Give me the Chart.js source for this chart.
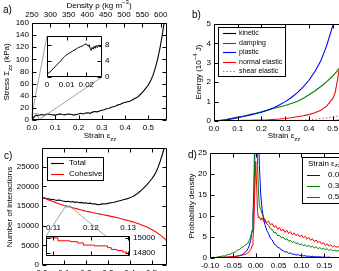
<!DOCTYPE html>
<html>
<head>
<meta charset="utf-8">
<script src="https://cdn.jsdelivr.net/npm/chart.js@4/dist/chart.umd.min.js"></script>
<style>
html, body { margin: 0; padding: 0; overflow: hidden; background: #fff; }
body { position: relative; width: 339px; height: 271px; font-family: "Liberation Sans", Arial, sans-serif; }
canvas { position: absolute; }
.lab { position: absolute; font-size: 8px; line-height: 1; white-space: nowrap; color: #000; transform: translate(-50%, -50%); }
.rot { transform: translate(-50%, -50%) rotate(-90deg); }
.tag { position: absolute; font-size: 10px; line-height: 1; }
sub, sup { font-size: 6px; line-height: 0; }
</style>
</head>
<body>
<canvas id="chartA" width="175" height="135" style="left:0px;top:0px"></canvas>
<canvas id="chartB" width="180" height="135" style="left:185px;top:0px"></canvas>
<canvas id="chartC" width="175" height="150" style="left:0px;top:138px"></canvas>
<canvas id="chartD" width="180" height="150" style="left:178px;top:138px"></canvas>
<canvas id="insetA" width="82" height="64" style="left:38px;top:28px"></canvas>
<canvas id="insetC" width="122" height="42" style="left:40px;top:222px"></canvas>

<div class="tag" style="left:3px;top:5px">a)</div>
<div class="tag" style="left:192px;top:10px">b)</div>
<div class="tag" style="left:4px;top:151px">c)</div>
<div class="tag" style="left:188px;top:150px">d)</div>

<div class="lab" style="left:99px;top:6px">Density ρ (kg m<sup>−3</sup>)</div>
<div class="lab rot" style="left:7px;top:72px">Stress Σ<sub>zz</sub> (kPa)</div>
<div class="lab" style="left:100px;top:136px">Strain ε<sub>zz</sub></div>
<div class="lab rot" style="left:199px;top:72px">Energy (10<sup>−4</sup> J)</div>
<div class="lab" style="left:284px;top:136px">Strain ε<sub>zz</sub></div>
<div class="lab rot" style="left:10px;top:207px">Number of interactions</div>
<div class="lab" style="left:104px;top:283px">Strain ε<sub>zz</sub></div>
<div class="lab rot" style="left:192px;top:206px">Probability density</div>

<script>
// ---- panel a: stress vs strain ----
const strainA = [0, 0.005, 0.01, 0.015, 0.02, 0.025, 0.03, 0.04, 0.05, 0.06, 0.07, 0.08, 0.09, 0.10,
  0.11, 0.12, 0.13, 0.14, 0.15, 0.16, 0.17, 0.18, 0.19, 0.20, 0.21, 0.22, 0.23, 0.24, 0.25, 0.26,
  0.27, 0.28, 0.29, 0.30, 0.31, 0.32, 0.33, 0.34, 0.35, 0.36, 0.37, 0.38, 0.39, 0.40, 0.41, 0.42,
  0.43, 0.44, 0.45, 0.46, 0.47, 0.48, 0.49, 0.50, 0.51, 0.52, 0.53, 0.54, 0.55, 0.56, 0.57, 0.58];
const stressA = [0, 3, 5.5, 7, 8, 7, 8, 9, 8, 9.5, 10, 9, 8.5, 8,
  9, 10, 9, 8.5, 9.5, 10, 9, 8, 9, 10, 11, 10, 11.5, 12, 11, 13,
  14, 13.5, 15, 16, 17, 18.5, 19, 21, 22, 23, 25, 26, 28, 29, 30, 31,
  33, 35, 37, 40, 44, 48, 53, 58, 65, 74, 86, 101, 119, 141, 166, 190];
const strainAZoom = [0, 0.001, 0.002, 0.003, 0.004, 0.005, 0.006, 0.007, 0.008, 0.009, 0.010,
  0.011, 0.012, 0.013, 0.014, 0.015, 0.016, 0.017, 0.018, 0.019, 0.020, 0.0205, 0.021, 0.0215,
  0.022, 0.0225, 0.023, 0.0235, 0.024, 0.0245, 0.025, 0.0255, 0.026, 0.0265, 0.027, 0.0275, 0.028];
const stressAZoom = [0.8, 1.0, 1.5, 2.0, 2.5, 3.0, 3.5, 4.0, 4.6, 5.1, 5.5,
  5.8, 6.1, 6.4, 6.7, 7.0, 7.3, 7.5, 7.7, 8.0, 8.2, 7.9, 7.6, 8.0,
  7.1, 6.6, 7.3, 6.9, 7.6, 7.1, 7.8, 7.3, 7.5, 7.9, 7.4, 7.8, 7.6];
const ticksStrain = [0, 0.1, 0.2, 0.3, 0.4, 0.5, 0.6];
const ticksDensity = [250, 300, 350, 400, 450, 500, 550, 600];
const ticksStress = [0, 20, 40, 60, 80, 100, 120, 140, 160];
const ticksStrainZoomA = [0, 0.01, 0.02];
const ticksStressZoom = [0, 4, 8];

// ---- panel b: energies (1e-4 J) ----
const strainB = [0, 0.025, 0.05, 0.075, 0.1, 0.125, 0.15, 0.175, 0.2, 0.225, 0.25, 0.275, 0.3,
  0.325, 0.35, 0.375, 0.4, 0.425, 0.45, 0.475, 0.5, 0.51, 0.52, 0.53, 0.55, 0.575, 0.6];
const energyKinetic = [0, 0.01, 0.02, 0.02, 0.02, 0.02, 0.02, 0.02, 0.02, 0.02, 0.02, 0.02, 0.02,
  0.02, 0.02, 0.02, 0.02, 0.02, 0.02, 0.02, 0.02, 0.02, 0.03, 0.03, 0.03, 0.03, 0.03];
const energyDamping = [0, 0.03, 0.08, 0.14, 0.2, 0.26, 0.33, 0.4, 0.48, 0.56, 0.64, 0.72, 0.8,
  0.9, 1.01, 1.16, 1.35, 1.55, 1.78, 2.03, 2.32, 2.45, 2.6, 2.75, 3.05, 3.5, 4.0];
const energyPlastic = [0, 0.02, 0.06, 0.11, 0.17, 0.23, 0.3, 0.37, 0.45, 0.55, 0.67, 0.82, 1.0,
  1.2, 1.45, 1.75, 2.1, 2.55, 3.1, 3.9, 4.9, 5.4, 6.0, 6.6, 8, 10, 12];
const energyNormal = [0, 0.005, 0.01, 0.015, 0.02, 0.03, 0.04, 0.045, 0.05, 0.06, 0.08, 0.1, 0.13,
  0.17, 0.22, 0.27, 0.33, 0.42, 0.55, 0.78, 1.15, 1.45, 2.1, 2.9, 4.5, 6, 8];
const energyShear = [0, 0, 0, 0, 0, 0.005, 0.005, 0.01, 0.01, 0.015, 0.015, 0.02, 0.025,
  0.03, 0.04, 0.05, 0.07, 0.09, 0.12, 0.16, 0.2, 0.22, 0.25, 0.28, 0.34, 0.42, 0.5];
const ticksEnergy = [0, 1, 2, 3, 4, 5];

// ---- panel c: number of interactions ----
const strainC = [0, 0.01, 0.02, 0.03, 0.04, 0.05, 0.06, 0.07, 0.08, 0.09, 0.10, 0.11, 0.12, 0.13,
  0.14, 0.15, 0.16, 0.17, 0.18, 0.19, 0.20, 0.21, 0.22, 0.23, 0.24, 0.25, 0.26, 0.27, 0.28, 0.29,
  0.30, 0.31, 0.32, 0.33, 0.34, 0.35, 0.36, 0.37, 0.38, 0.39, 0.40, 0.41, 0.42, 0.43, 0.44, 0.45,
  0.46, 0.47, 0.48, 0.49, 0.50, 0.51, 0.52, 0.53, 0.54, 0.55, 0.56, 0.57];
const totalC = [17200, 17100, 16950, 16850, 16700, 16750, 16550, 16450, 16550, 16350, 16250, 16150,
  16250, 16050, 16150, 15950, 16050, 15850, 15950, 15750, 15850, 15650, 15750, 15550, 15600, 15450,
  15350, 15500, 15600, 15550, 15700, 15800, 15900, 16000, 16150, 16300, 16450, 16600, 16750, 16900,
  17100, 17350, 17650, 18000, 18400, 18900, 19400, 19950, 20550, 21200, 21900, 22700, 23700, 25000,
  26600, 28400, 30400, 32500];
const cohesiveC = [17200, 17000, 16800, 16550, 16350, 16150, 15950, 15750, 15550, 15350, 15150, 15000,
  14900, 14780, 14600, 14450, 14300, 14150, 14000, 13850, 13700, 13600, 13480, 13350, 13250, 13130,
  13030, 12920, 12800, 12700, 12580, 12450, 12330, 12200, 12080, 11950, 11800, 11650, 11500, 11350,
  11200, 11050, 10880, 10700, 10500, 10300, 10080, 9850, 9600, 9330, 9050, 8750, 8400, 8000,
  7600, 7150, 6650, 6100];
const strainCZoom = [0.108, 0.1112, 0.1145, 0.1165, 0.118, 0.121, 0.1245, 0.1255, 0.127, 0.1285, 0.1295, 0.1305];
const cohesiveCZoom = [15005, 14965, 14953, 14935, 14906, 14895, 14871, 14847, 14832, 14812, 14795, 14778];
const ticksInteractions = [0, 5000, 10000, 15000, 20000, 25000];
const ticksStrainZoomC = [0.11, 0.12, 0.13];
const ticksInteractionsZoom = [14800, 15000];

// ---- panel d: probability density ----
const binsD = [-0.100, -0.096, -0.092, -0.088, -0.084, -0.080, -0.076, -0.072, -0.068, -0.064, -0.060,
  -0.056, -0.052, -0.048, -0.044, -0.040, -0.036, -0.032, -0.028, -0.024, -0.020,
  -0.017, -0.014, -0.011, -0.008, -0.006, -0.004, -0.002, 0.000, 0.002, 0.004, 0.006, 0.008, 0.011, 0.014, 0.017,
  0.020, 0.024, 0.028, 0.032, 0.036, 0.040, 0.044, 0.048, 0.052, 0.056, 0.060, 0.064, 0.068, 0.072,
  0.076, 0.080, 0.084, 0.088, 0.092, 0.096, 0.100, 0.104, 0.108, 0.112, 0.116, 0.120, 0.124, 0.128,
  0.132, 0.136, 0.140, 0.144, 0.148, 0.152, 0.156, 0.160, 0.164, 0.168, 0.172, 0.176, 0.180, 0.184,
  0.188, 0.192, 0.196, 0.200];
const density00 = [0, 0.05, 0, 0.1, 0.05, 0.1, 0.15, 0.1, 0.2, 0.15, 0.25, 0.2, 0.3, 0.35, 0.3, 0.5, 0.55, 0.7, 0.9, 1.2, 1.7,
  2.2, 3.0, 4.2, 6.5, 10, 17, 30, 42, 45, 40, 30, 22, 15, 11.5, 9.5,
  8.0, 6.6, 5.8, 4.7, 4.3, 3.4, 3.1, 2.5, 2.4, 1.9, 1.8, 1.4, 1.5, 1.1, 1.2, 0.9, 0.95, 0.7, 0.8, 0.6,
  0.65, 0.5, 0.55, 0.4, 0.45, 0.35, 0.4, 0.3, 0.3, 0.25, 0.3, 0.2, 0.25, 0.2, 0.15, 0.2, 0.15, 0.1,
  0.15, 0.1, 0.1, 0.05, 0.1, 0.05, 0.1, 0.05];
const density03 = [0.05, 0.1, 0.15, 0.1, 0.25, 0.3, 0.35, 0.5, 0.45, 0.7, 0.8, 0.9, 1.2, 1.3, 1.5, 1.9, 2.0, 2.4, 2.6, 3.0, 3.3,
  3.5, 4.2, 5.0, 6.5, 9, 14, 24, 38, 34, 22, 16, 12.5, 11.5, 10.5, 9.8,
  9.0, 8.1, 7.8, 7.0, 6.8, 6.0, 6.1, 5.3, 5.4, 4.8, 5.0, 4.4, 4.6, 4.0, 4.2, 3.7, 3.9, 3.4, 3.6, 3.1,
  3.4, 2.9, 3.2, 2.7, 3.0, 2.6, 2.8, 2.4, 2.7, 2.2, 2.5, 2.1, 2.3, 2.0, 2.2, 1.8, 2.1, 1.7,
  1.9, 1.6, 1.8, 1.5, 1.7, 1.4, 1.6, 1.4];
const density05 = [0, 0.05, 0.1, 0.05, 0.1, 0.15, 0.1, 0.2, 0.15, 0.25, 0.2, 0.3, 0.35, 0.3, 0.45, 0.4, 0.55, 0.6, 0.75, 0.8, 1.0,
  1.2, 1.5, 2.0, 3.0, 4.5, 8, 16, 23, 17, 11, 9.5, 9.8, 9.0, 9.6, 8.7,
  9.2, 8.4, 8.8, 7.9, 8.2, 7.3, 7.7, 6.8, 7.3, 6.4, 6.9, 6.1, 6.6, 5.8, 6.3, 5.5, 6.0, 5.3, 5.7, 5.0,
  5.5, 4.8, 5.2, 4.5, 4.9, 4.2, 4.6, 3.9, 4.3, 3.6, 4.0, 3.3, 3.7, 3.0, 3.4, 2.8, 3.2, 2.6,
  3.0, 2.5, 2.8, 2.3, 2.7, 2.2, 2.5, 2.1];
const ticksBins = [-0.1, -0.05, 0, 0.05, 0.1, 0.15, 0.2];
const ticksProb = [0, 5, 10, 15, 20, 25];

const FONT = '"Liberation Sans", Arial, sans-serif';
Chart.defaults.font.family = FONT;
Chart.defaults.font.size = 8;
Chart.defaults.color = '#000';

const pts = (xs, ys) => xs.map((x, i) => ({x: x, y: ys[i]}));

function axis(position, min, max, tickValues, size, digits) {
  const horizontal = position === 'top' || position === 'bottom';
  const shown = tickValues.filter(v => v >= min - 1e-9 && v <= max + 1e-9);
  return {
    type: 'linear', position: position, min: min, max: max,
    grid: {display: false, drawTicks: false},
    border: {display: false},
    ticks: {
      padding: 3, maxRotation: 0, autoSkip: false,
      callback: v => digits == null ? String(v) : v.toFixed(digits)
    },
    afterBuildTicks(scale) { scale.ticks = shown.map(v => ({value: v})); },
    afterFit(scale) { if (horizontal) scale.height = size; else scale.width = size; }
  };
}

// box round the plot with inward ticks, like the matplotlib frame
function frame(mirrorX, mirrorY, fill) {
  return {
    id: 'frame',
    beforeDraw(chart) {
      if (!fill) return;
      const a = chart.chartArea;
      chart.ctx.save();
      chart.ctx.fillStyle = '#fff';
      chart.ctx.fillRect(a.left, a.top, a.right - a.left, a.bottom - a.top);
      chart.ctx.restore();
    },
    afterDatasetsDraw(chart) {
      const ctx = chart.ctx, a = chart.chartArea;
      const L = Math.round(a.left) + 0.5, R = Math.round(a.right) - 0.5;
      const T = Math.round(a.top) + 0.5, B = Math.round(a.bottom) - 0.5;
      ctx.save();
      ctx.strokeStyle = '#000';
      ctx.lineWidth = 1;
      ctx.beginPath();
      ctx.rect(L, T, R - L, B - T);
      Object.values(chart.scales).forEach(s => {
        s.ticks.forEach(t => {
          const p = Math.round(s.getPixelForValue(t.value)) + 0.5;
          if (s.isHorizontal()) {
            const sides = mirrorX ? [T, B] : [s.position === 'top' ? T : B];
            sides.forEach(y => { ctx.moveTo(p, y); ctx.lineTo(p, y === T ? y + 4 : y - 4); });
          } else {
            const sides = mirrorY ? [L, R] : [s.position === 'right' ? R : L];
            sides.forEach(x => { ctx.moveTo(x, p); ctx.lineTo(x === L ? x + 4 : x - 4, p); });
          }
        });
      });
      ctx.stroke();
      ctx.restore();
    }
  };
}

function boxLegend(box) {
  return {
    id: 'boxLegend',
    afterDraw(chart) {
      const ctx = chart.ctx;
      const x = box.x - chart.canvas.offsetLeft, y = box.y - chart.canvas.offsetTop;
      ctx.save();
      ctx.fillStyle = '#fff';
      ctx.fillRect(x, y, box.w, box.h);
      ctx.strokeStyle = '#000';
      ctx.lineWidth = 1;
      ctx.strokeRect(x + 0.5, y + 0.5, box.w, box.h);
      ctx.font = box.size + 'px ' + FONT;
      ctx.textBaseline = 'middle';
      let row = y + box.first;
      if (box.title) {
        ctx.fillStyle = '#000';
        ctx.fillText(box.title, x + box.titleX, row);
        const w = ctx.measureText(box.title).width;
        ctx.font = Math.round(box.size * 0.72) + 'px ' + FONT;
        ctx.fillText(box.titleSub, x + box.titleX + w, row + 2);
        ctx.font = box.size + 'px ' + FONT;
        row += box.rowH;
      }
      chart.data.datasets.forEach(ds => {
        const ry = Math.round(row) + 0.5;
        ctx.beginPath();
        ctx.strokeStyle = ds.borderColor;
        ctx.lineWidth = ds.borderWidth;
        ctx.setLineDash(ds.borderDash || []);
        ctx.moveTo(x + box.lineX, ry);
        ctx.lineTo(x + box.lineX + box.lineLen, ry);
        ctx.stroke();
        ctx.setLineDash([]);
        ctx.fillStyle = '#000';
        ctx.fillText(ds.label, x + box.textX, row);
        row += box.rowH;
      });
      ctx.restore();
    }
  };
}

// grey rectangle round the zoomed region and the two lines to the inset
function zoomMark(inset, xr, yr) {
  return {
    id: 'zoomMark',
    afterDatasetsDraw(chart) {
      const sx = chart.scales.x, sy = chart.scales.y, ctx = chart.ctx;
      const x0 = sx.getPixelForValue(xr[0]), x1 = sx.getPixelForValue(xr[1]);
      const yTop = sy.getPixelForValue(yr[1]), yBot = sy.getPixelForValue(yr[0]);
      const dx = inset.canvas.offsetLeft - chart.canvas.offsetLeft;
      const dy = inset.canvas.offsetTop - chart.canvas.offsetTop;
      const ia = inset.chartArea;
      ctx.save();
      ctx.strokeStyle = '#8c8c8c';
      ctx.lineWidth = 0.8;
      ctx.strokeRect(x0, yTop, x1 - x0, yBot - yTop);
      ctx.beginPath();
      ctx.moveTo(x0, yTop);
      ctx.lineTo(ia.left + dx, ia.top + dy);
      ctx.moveTo(x1, yBot);
      ctx.lineTo(ia.right + dx, ia.bottom + dy);
      ctx.stroke();
      ctx.restore();
    }
  };
}

function lineChart(id, datasets, scales, padding, plugins) {
  return new Chart(document.getElementById(id), {
    type: 'line',
    data: {datasets: datasets},
    options: {
      responsive: false, animation: false, devicePixelRatio: 1, events: [],
      layout: {padding: padding},
      plugins: {legend: {display: false}, tooltip: {enabled: false}},
      elements: {point: {radius: 0}, line: {tension: 0}},
      scales: scales
    },
    plugins: plugins
  });
}

const line = (label, data, color, width, order, extra) =>
  Object.assign({label: label, data: data, borderColor: color, borderWidth: width, order: order, fill: false}, extra || {});

// ---- insets first, so the main charts can point at them ----
const insetA = lineChart('insetA',
  [line('stress', pts(strainAZoom, stressAZoom), '#000', 1, 0)],
  {x: axis('bottom', 0, 0.028, ticksStrainZoomA, 15), y: axis('right', 0, 10.2, ticksStressZoom, 18)},
  {left: 9, top: 3, right: 0, bottom: 0},
  [frame(true, true, true)]);

const insetC = lineChart('insetC',
  [line('Cohesive', pts(strainCZoom, cohesiveCZoom), '#ff0000', 1, 0, {stepped: true})],
  {x: axis('top', 0.108, 0.1305, ticksStrainZoomC, 14, 2), y: axis('right', 14755, 15030, ticksInteractionsZoom, 32)},
  {left: 6, top: 0, right: 0, bottom: 4},
  [frame(true, true, true)]);

lineChart('chartA',
  [line('stress', pts(strainA, stressA), '#000', 1.1, 0)],
  {
    x: axis('bottom', 0, 0.58, ticksStrain, 15, 1),
    x2: axis('top', 250, 617, ticksDensity, 23),
    y: axis('left', 0, 160, ticksStress, 32)
  },
  {left: 0, top: 0, right: 8, bottom: 0},
  [zoomMark(insetA, [0, 0.028], [0, 10.2]), frame(false, true, false)]);

lineChart('chartB',
  [
    line('kinetic', pts(strainB, energyKinetic), '#000', 1.1, 4),
    line('damping', pts(strainB, energyDamping), '#008000', 1.1, 3),
    line('plastic', pts(strainB, energyPlastic), '#0000ff', 1.1, 2),
    line('normal elastic', pts(strainB, energyNormal), '#ff0000', 1.1, 1),
    line('shear elastic', pts(strainB, energyShear), 'rgba(255,0,0,0.7)', 1.1, 0, {borderDash: [1.5, 2]})
  ],
  {x: axis('bottom', 0, 0.6, ticksStrain, 14, 1), y: axis('left', 0, 5, ticksEnergy, 29)},
  {left: 0, top: 24, right: 6, bottom: 0},
  [frame(true, true, false),
   boxLegend({x: 218, y: 27, w: 67, h: 49, size: 7, first: 6, rowH: 9.6, lineX: 5, lineLen: 13, textX: 21})]);

lineChart('chartC',
  [
    line('Total', pts(strainC, totalC), '#000', 1.1, 1),
    line('Cohesive', pts(strainC, cohesiveC), '#ff0000', 1.1, 0)
  ],
  {x: axis('bottom', 0, 0.57, ticksStrain, 23, 1), y: axis('left', 0, 29800, ticksInteractions, 42)},
  {left: 0, top: 10, right: 8, bottom: 0},
  [zoomMark(insetC, [0.108, 0.1305], [14778, 15005]), frame(true, true, false),
   boxLegend({x: 47, y: 157, w: 56, h: 23, size: 8, first: 6, rowH: 11, lineX: 4, lineLen: 13, textX: 22})]);

lineChart('chartD',
  [
    line('0.0', pts(binsD, density00), '#0000ff', 1, 2),
    line('0.3', pts(binsD, density03), '#008000', 1, 1),
    line('0.5', pts(binsD, density05), '#ff0000', 1, 0)
  ],
  {x: axis('bottom', -0.1, 0.2, ticksBins, 30, 2), y: axis('left', 0, 25, ticksProb, 32)},
  {left: 0, top: 15, right: 7, bottom: 0},
  [frame(true, true, false),
   boxLegend({x: 302, y: 157, w: 60, h: 46, size: 8, first: 6.5, rowH: 11, lineX: 5, lineLen: 13, textX: 26,
     title: 'Strain ε', titleSub: 'zz', titleX: 6})]);
</script>
</body>
</html>
